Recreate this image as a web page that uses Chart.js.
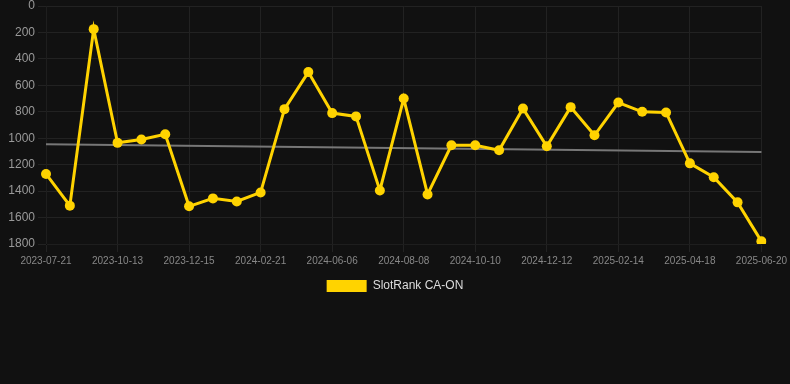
<!DOCTYPE html>
<html>
<head>
<meta charset="utf-8">
<script src="https://cdn.jsdelivr.net/npm/chart.js@4"></script>
<style>
  html, body { margin: 0; padding: 0; background: #111111; }
  #wrap { width: 790px; height: 302px; }
</style>
</head>
<body>
<div id="wrap"><canvas id="rankChart"></canvas></div>
<script>
// Dates of each rank sample
const dates = [
    "2023-07-21", "2023-08-18", "2023-09-15", "2023-10-13", "2023-11-03", "2023-11-24",
    "2023-12-15", "2024-01-05", "2024-01-26", "2024-02-21", "2024-03-22", "2024-05-03",
    "2024-06-06", "2024-06-27", "2024-07-18", "2024-08-08", "2024-08-29", "2024-09-19",
    "2024-10-10", "2024-10-31", "2024-11-21", "2024-12-12", "2025-01-02", "2025-01-24",
    "2025-02-14", "2025-03-07", "2025-03-28", "2025-04-18", "2025-05-09", "2025-05-30",
    "2025-06-20"
];

// SlotRank position (lower is better)
const ranks = [
    1270, 1510, 175, 1035, 1010, 970,
    1515, 1455, 1478, 1410, 780, 500,
    810, 835, 1395, 700, 1425, 1053,
    1053, 1091, 775, 1061, 765, 978,
    730, 800, 805, 1190, 1295, 1485,
    1780
];

// Trend line end values
const trendStart = 1045;
const trendEnd = 1105;

const yTicks = [0, 200, 400, 600, 800, 1000, 1200, 1400, 1600, 1800];

const ctx = document.getElementById('rankChart').getContext('2d');

new Chart(ctx, {
    type: 'line',
    data: {
        labels: dates,
        datasets: [{
            label: 'SlotRank CA-ON',
            data: ranks,
            borderColor: '#ffd300',
            backgroundColor: '#ffd300',
            borderWidth: 3,
            pointRadius: 5,
            pointBackgroundColor: '#ffd300',
            pointBorderWidth: 0,
            tension: 0
        }, {
            label: 'trend',
            data: [
                { x: dates[0], y: trendStart },
                { x: dates[dates.length - 1], y: trendEnd }
            ],
            borderColor: '#777777',
            borderWidth: 2,
            pointRadius: 0,
            fill: false
        }]
    },
    options: {
        animation: false,
        responsive: true,
        maintainAspectRatio: false,
        layout: { padding: { left: 0, right: 0 } },
        scales: {
            x: {
                grid: { color: '#222222' },
                ticks: {
                    color: '#888888',
                    font: { family: 'Arial, "Liberation Sans", sans-serif', size: 10 },
                    maxRotation: 0
                }
            },
            y: {
                reverse: true,
                min: yTicks[0],
                max: yTicks[yTicks.length - 1],
                afterFit: scale => {
                    scale.width = 46;
                    scale.paddingTop = 6;
                },
                grid: { color: '#222222' },
                ticks: {
                    stepSize: 200,
                    color: '#999999',
                    font: { family: 'Arial, "Liberation Sans", sans-serif', size: 12 },
                    callback: value => String(value)
                }
            }
        },
        plugins: {
            legend: {
                position: 'bottom',
                labels: {
                    color: '#dddddd',
                    font: { family: 'Arial, "Liberation Sans", sans-serif', size: 12 },
                    filter: item => {
                        item.lineWidth = 0; // plain box, no outline
                        return item.text !== 'trend';
                    }
                }
            },
            tooltip: { enabled: false }
        }
    }
});
</script>
</body>
</html>
